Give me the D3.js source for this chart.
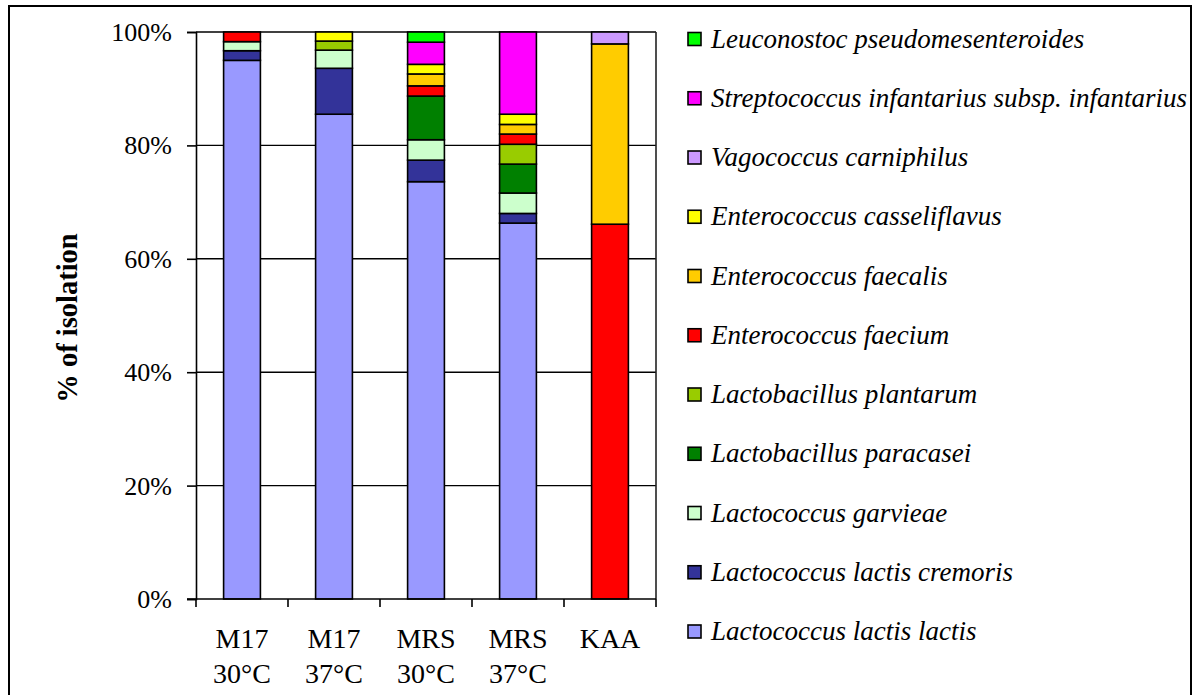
<!DOCTYPE html>
<html>
<head>
<meta charset="utf-8">
<script src="https://cdn.jsdelivr.net/npm/d3@7"></script>
<style>
  html, body { margin: 0; padding: 0; background: #fff; }
  svg { display: block; font-family: "Liberation Serif", "Times New Roman", serif; }
</style>
</head>
<body>
<svg id="chart" width="1200" height="695"></svg>
<script>
// Culture media / incubation temperature
const categories = ["M17 30°C", "M17 37°C", "MRS 30°C", "MRS 37°C", "KAA"];
const categoryLines = [["M17", "30°C"], ["M17", "37°C"], ["MRS", "30°C"], ["MRS", "37°C"], ["KAA"]];

// Species, stacked bottom to top
const species = [
  "Lactococcus lactis lactis",
  "Lactococcus lactis cremoris",
  "Lactococcus garvieae",
  "Lactobacillus paracasei",
  "Lactobacillus plantarum",
  "Enterococcus faecium",
  "Enterococcus faecalis",
  "Enterococcus casseliflavus",
  "Vagococcus carniphilus",
  "Streptococcus infantarius subsp. infantarius",
  "Leuconostoc pseudomesenteroides"
];
const colors = ["#9999FF", "#333399", "#CCFFCC", "#008000", "#99CC00", "#FF0000",
                "#FFCC00", "#FFFF00", "#CC99FF", "#FF00FF", "#00FF00"];

// % of isolates per species, one array per species (order of categories)
const lactisLactis    = [95.0, 85.5, 73.6, 66.3, 0];
const lactisCremoris  = [1.7, 8.1, 3.8, 1.7, 0];
const garvieae        = [1.6, 3.2, 3.6, 3.6, 0];
const paracasei       = [0, 0, 7.7, 5.1, 0];
const plantarum       = [0, 1.6, 0, 3.5, 0];
const faecium         = [1.7, 0, 1.8, 1.8, 66.1];
const faecalis        = [0, 0, 2.1, 1.7, 31.8];
const casseliflavus   = [0, 1.6, 1.7, 1.8, 0];
const carniphilus     = [0, 0, 0, 0, 2.1];
const infantarius     = [0, 0, 3.9, 14.5, 0];
const pseudomesent    = [0, 0, 1.8, 0, 0];

const yTicks = [0, 20, 40, 60, 80, 100];
const yTickLabels = ["0%", "20%", "40%", "60%", "80%", "100%"];

const seriesValues = [lactisLactis, lactisCremoris, garvieae, paracasei, plantarum,
  faecium, faecalis, casseliflavus, carniphilus, infantarius, pseudomesent];

const rows = categories.map((c, i) => {
  const r = { category: c };
  species.forEach((s, k) => { r[s] = seriesValues[k][i]; });
  return r;
});

const serif = "'Liberation Serif', 'Times New Roman', serif";
const svg = d3.select("#chart");

// outer frame
svg.append("rect")
  .attr("x", 9).attr("y", 6).attr("width", 1182).attr("height", 720)
  .attr("fill", "none").attr("stroke", "#000").attr("stroke-width", 2);

const plotLeft = 196, plotRight = 656, plotTop = 32, plotBottom = 599;

const x = d3.scaleBand().domain(categories).range([plotLeft, plotRight])
  .paddingInner(0.6).paddingOuter(0.3);
const y = d3.scaleLinear().domain([0, 100]).range([plotBottom, plotTop]);

// gridlines
svg.append("g").selectAll("line").data(yTicks.filter(t => t > 0)).join("line")
  .attr("x1", plotLeft).attr("x2", plotRight)
  .attr("y1", d => y(d)).attr("y2", d => y(d))
  .attr("stroke", "#000").attr("stroke-width", 1.4);

// plot area right edge
svg.append("line").attr("x1", plotRight).attr("x2", plotRight).attr("y1", plotTop).attr("y2", plotBottom)
  .attr("stroke", "#222").attr("stroke-width", 1.6);

// stacked bars
const stack = d3.stack().keys(species);
const layers = stack(rows);
svg.append("g").selectAll("g").data(layers).join("g")
  .attr("fill", (d, i) => colors[i])
  .selectAll("rect").data(d => d.filter(p => p[1] - p[0] > 0)).join("rect")
  .attr("x", d => x(d.data.category))
  .attr("width", x.bandwidth())
  .attr("y", d => y(d[1]))
  .attr("height", d => y(d[0]) - y(d[1]))
  .attr("stroke", "#000").attr("stroke-width", 1.6);

// y axis
const yAxis = d3.axisLeft(y).tickValues(yTicks)
  .tickFormat((d, i) => yTickLabels[i]).tickSize(9).tickPadding(15);
const gy = svg.append("g").attr("transform", `translate(${plotLeft},0)`).call(yAxis);
gy.select(".domain").attr("stroke", "#000").attr("stroke-width", 1.6);
gy.selectAll(".tick line").attr("stroke", "#000").attr("stroke-width", 1.6);
gy.selectAll(".tick text")
  .attr("font-family", serif).attr("font-size", 26).attr("fill", "#000")
  .attr("dy", "0.33em");

// x axis: ticks on band boundaries
const gx = svg.append("g");
gx.append("line").attr("x1", plotLeft - 9).attr("x2", plotRight).attr("y1", plotBottom).attr("y2", plotBottom)
  .attr("stroke", "#000").attr("stroke-width", 1.6);
const boundaries = categories.map(c => x(c) - x.step() * x.paddingOuter()).concat([plotRight]);
gx.selectAll("line.tk").data(boundaries).join("line").attr("class", "tk")
  .attr("x1", d => d).attr("x2", d => d).attr("y1", plotBottom).attr("y2", plotBottom + 8)
  .attr("stroke", "#000").attr("stroke-width", 1.6);

const xl = svg.append("g").selectAll("text").data(categories).join("text")
  .attr("text-anchor", "middle")
  .attr("font-family", serif).attr("font-size", 28).attr("fill", "#000");
xl.selectAll("tspan").data((d, i) => categoryLines[i].map((t, j) => ({ t, j, c: d }))).join("tspan")
  .attr("x", d => x(d.c) + x.bandwidth() / 2)
  .attr("y", d => 648 + d.j * 35)
  .text(d => d.t);

// y axis title
svg.append("text")
  .attr("transform", "translate(77,318) rotate(-90)")
  .attr("text-anchor", "middle")
  .attr("font-family", serif)
  .attr("font-weight", "bold").attr("font-size", 28.5).attr("fill", "#000")
  .text("% of isolation");

// legend, top entry is the top of the stack
const legendOrder = species.map((s, i) => i).reverse();
const lg = svg.append("g").selectAll("g").data(legendOrder).join("g")
  .attr("transform", (d, i) => `translate(688,${39 + i * 59.25})`);
lg.append("rect").attr("x", 0).attr("y", -6.5).attr("width", 13).attr("height", 13)
  .attr("fill", d => colors[d]).attr("stroke", "#000").attr("stroke-width", 1.6);
lg.append("text").attr("x", 23).attr("y", 8.5)
  .attr("font-family", serif)
  .attr("font-style", "italic").attr("font-size", 27).attr("fill", "#000")
  .text(d => species[d]);
</script>
</body>
</html>
